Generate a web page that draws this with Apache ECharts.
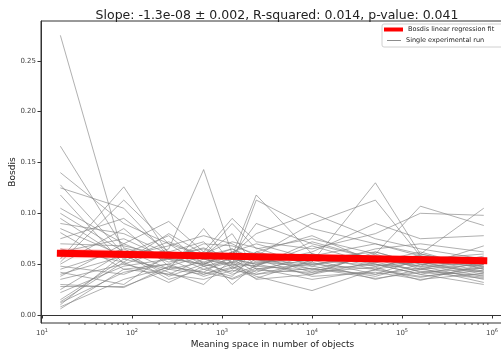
<!DOCTYPE html>
<html>
<head>
<meta charset="utf-8">
<script src="https://cdn.jsdelivr.net/npm/echarts@6/dist/echarts.min.js"></script>
<style>
  html, body { margin: 0; padding: 0; background: #fff; }
  #chart { width: 501px; height: 353px; }
</style>
</head>
<body>
<div id="chart"></div>
<script>
// meaning space sizes (x) shared by every run
const meaningSpace = [16, 81, 256, 625, 1296, 2401, 10000, 50625, 160000, 810000];

// one row per experimental run, values at each meaningSpace entry
const runs = [
  [0.275, 0.057, 0.062, 0.048, 0.055, 0.050, 0.058, 0.045, 0.052, 0.048],
  [0.166, 0.066, 0.055, 0.060, 0.048, 0.062, 0.050, 0.055, 0.047, 0.052],
  [0.140, 0.090, 0.070, 0.058, 0.065, 0.055, 0.060, 0.052, 0.058, 0.045],
  [0.128, 0.060, 0.078, 0.050, 0.062, 0.070, 0.055, 0.062, 0.050, 0.056],
  [0.125, 0.105, 0.058, 0.065, 0.052, 0.048, 0.068, 0.050, 0.045, 0.050],
  [0.118, 0.050, 0.065, 0.143, 0.060, 0.055, 0.045, 0.058, 0.052, 0.042],
  [0.105, 0.070, 0.092, 0.062, 0.058, 0.118, 0.060, 0.048, 0.055, 0.060],
  [0.100, 0.062, 0.055, 0.070, 0.068, 0.060, 0.052, 0.130, 0.060, 0.047],
  [0.095, 0.055, 0.072, 0.058, 0.090, 0.065, 0.075, 0.060, 0.107, 0.088],
  [0.090, 0.080, 0.060, 0.055, 0.050, 0.113, 0.085, 0.070, 0.060, 0.105],
  [0.085, 0.058, 0.068, 0.078, 0.070, 0.058, 0.090, 0.113, 0.058, 0.050],
  [0.081, 0.045, 0.050, 0.062, 0.095, 0.072, 0.065, 0.080, 0.100, 0.098],
  [0.075, 0.095, 0.062, 0.052, 0.060, 0.080, 0.100, 0.075, 0.065, 0.055],
  [0.070, 0.068, 0.058, 0.066, 0.055, 0.050, 0.062, 0.090, 0.075, 0.078],
  [0.065, 0.052, 0.080, 0.060, 0.072, 0.066, 0.048, 0.065, 0.070, 0.062],
  [0.062, 0.075, 0.055, 0.050, 0.058, 0.090, 0.070, 0.055, 0.048, 0.068],
  [0.058, 0.060, 0.062, 0.072, 0.045, 0.062, 0.078, 0.052, 0.062, 0.045],
  [0.055, 0.126, 0.060, 0.055, 0.065, 0.052, 0.058, 0.070, 0.058, 0.052],
  [0.052, 0.113, 0.070, 0.048, 0.052, 0.058, 0.042, 0.060, 0.045, 0.058],
  [0.050, 0.085, 0.048, 0.058, 0.080, 0.045, 0.055, 0.048, 0.052, 0.040],
  [0.048, 0.040, 0.056, 0.050, 0.062, 0.054, 0.050, 0.045, 0.060, 0.048],
  [0.045, 0.065, 0.045, 0.085, 0.050, 0.048, 0.072, 0.055, 0.042, 0.046],
  [0.042, 0.030, 0.060, 0.045, 0.038, 0.060, 0.045, 0.040, 0.055, 0.043],
  [0.040, 0.058, 0.042, 0.030, 0.055, 0.042, 0.060, 0.050, 0.040, 0.052],
  [0.038, 0.070, 0.052, 0.060, 0.030, 0.050, 0.040, 0.062, 0.050, 0.038],
  [0.035, 0.050, 0.040, 0.055, 0.048, 0.038, 0.024, 0.045, 0.038, 0.044],
  [0.030, 0.027, 0.048, 0.042, 0.058, 0.045, 0.050, 0.058, 0.048, 0.035],
  [0.025, 0.062, 0.038, 0.050, 0.042, 0.055, 0.038, 0.042, 0.035, 0.041],
  [0.022, 0.048, 0.055, 0.040, 0.050, 0.040, 0.052, 0.035, 0.045, 0.037],
  [0.015, 0.055, 0.045, 0.052, 0.040, 0.048, 0.044, 0.050, 0.040, 0.030],
  [0.012, 0.042, 0.050, 0.038, 0.046, 0.052, 0.048, 0.038, 0.050, 0.042],
  [0.010, 0.060, 0.035, 0.045, 0.052, 0.035, 0.040, 0.052, 0.043, 0.039],
  [0.008, 0.035, 0.047, 0.042, 0.036, 0.046, 0.035, 0.044, 0.037, 0.047],
  [0.006, 0.045, 0.040, 0.035, 0.044, 0.040, 0.046, 0.036, 0.042, 0.036],
  [0.013, 0.052, 0.032, 0.048, 0.035, 0.044, 0.042, 0.047, 0.034, 0.050],
  [0.028, 0.028, 0.045, 0.040, 0.047, 0.036, 0.054, 0.040, 0.046, 0.032]
];

// regression line and its confidence band
const fitX = [16, 810000];
const fitY = [0.0607, 0.0534];
const bandX = [16, 256, 2401, 50625, 810000];
const bandLow = [0.0555, 0.0570, 0.0552, 0.0525, 0.0495];
const bandHigh = [0.0660, 0.0625, 0.0598, 0.0580, 0.0572];

const xTicks = [10, 100, 1000, 10000, 100000, 1000000];
const yTicks = [0, 0.05, 0.1, 0.15, 0.2, 0.25];

const xMinorTicks = [];
for (let d = 10; d <= 100000; d *= 10) {
  for (let k = 2; k <= 9; k++) xMinorTicks.push(k * d);
}

const FONT = "DejaVu Sans";
const RUN_NAME = "Single experimental run";
const FIT_NAME = "Bosdis linear regression fit";
const Y_MIN = -0.00787;

const chart = echarts.init(document.getElementById("chart"), null, { renderer: "canvas" });

const series = runs.map((run) => ({
  name: RUN_NAME,
  type: "line",
  data: run.map((v, i) => [meaningSpace[i], v]),
  showSymbol: false,
  silent: true,
  itemStyle: { color: "#8c8c8c" },
  lineStyle: { color: "rgba(128,128,128,0.62)", width: 1 },
  z: 2
}));

series.push({
  type: "custom",
  silent: true,
  data: [0],
  z: 3,
  renderItem: (params, api) => {
    const pts = [];
    bandX.forEach((x, i) => pts.push(api.coord([x, bandHigh[i]])));
    for (let i = bandX.length - 1; i >= 0; i--) pts.push(api.coord([bandX[i], bandLow[i]]));
    return { type: "polygon", shape: { points: pts }, style: { fill: "rgba(255,0,0,0.16)" } };
  }
});

series.push({
  name: FIT_NAME,
  type: "line",
  data: fitX.map((x, i) => [x, fitY[i]]),
  showSymbol: false,
  silent: true,
  itemStyle: { color: "#ff0000" },
  lineStyle: { color: "#ff0000", width: 7, cap: "square" },
  z: 4
});

// matplotlib-style minor ticks on the log axis
series.push({
  type: "custom",
  silent: true,
  clip: false,
  data: xMinorTicks,
  z: 5,
  renderItem: (params, api) => {
    const p = api.coord([api.value(0), Y_MIN]);
    return {
      type: "line",
      shape: { x1: p[0], y1: p[1], x2: p[0], y2: p[1] + 2 },
      style: { stroke: "#333", lineWidth: 0.8 }
    };
  },
  encode: { x: 0 }
});

chart.setOption({
  animation: false,
  backgroundColor: "#fff",
  textStyle: { fontFamily: FONT },
  title: {
    text: "Slope: -1.3e-08 ± 0.002, R-squared: 0.014, p-value: 0.041",
    left: 272,
    textAlign: "center",
    top: 4,
    textStyle: { fontFamily: FONT, fontSize: 12.5, fontWeight: "normal", color: "#222" }
  },
  graphic: [{
    type: "rect",
    shape: { x: 382, y: 24, width: 125, height: 23, r: 2 },
    style: { fill: "rgba(255,255,255,0.85)", stroke: "#d0d0d0", lineWidth: 1 },
    z: 10
  }],
  legend: [
    {
      data: [{ name: FIT_NAME, icon: "rect" }],
      left: 384, top: 26, padding: 0,
      itemWidth: 19, itemHeight: 4,
      selectedMode: false,
      textStyle: { fontFamily: FONT, fontSize: 6.5, color: "#222" },
      z: 11
    },
    {
      data: [{ name: RUN_NAME, icon: "rect" }],
      left: 387, top: 37, padding: 0,
      itemWidth: 14, itemHeight: 1,
      selectedMode: false,
      textStyle: { fontFamily: FONT, fontSize: 6.5, color: "#222" },
      z: 11
    }
  ],
  grid: {
    left: 41, right: -3, top: 21, bottom: 30,
    containLabel: false,
    outerBoundsMode: "none",
    show: true, borderColor: "#333", borderWidth: 1, backgroundColor: "transparent"
  },
  xAxis: {
    type: "log",
    logBase: 10,
    min: 9.747,
    max: 1359000,
    name: "Meaning space in number of objects",
    nameLocation: "middle",
    nameGap: 17,
    nameMoveOverlap: false,
    nameTextStyle: { fontFamily: FONT, fontSize: 9, color: "#222" },
    axisLine: { show: true, lineStyle: { color: "#333", width: 1 } },
    axisTick: { show: true, customValues: xTicks, length: 3.5, lineStyle: { color: "#333" } },
    axisLabel: {
      customValues: xTicks,
      margin: 5,
      color: "#444",
      fontFamily: FONT,
      formatter: (v) => "{b|10}{s|" + Math.round(Math.log10(v)) + "}",
      rich: {
        b: { fontSize: 7, color: "#444", fontFamily: FONT },
        s: { fontSize: 5, color: "#444", fontFamily: FONT, verticalAlign: "top", padding: [0, 0, 5, 0] }
      }
    },
    splitLine: { show: false },
    minorTick: { show: false }
  },
  yAxis: {
    type: "value",
    min: Y_MIN,
    max: 0.2891,
    name: "Bosdis",
    nameLocation: "middle",
    nameGap: 24,
    nameMoveOverlap: false,
    nameTextStyle: { fontFamily: FONT, fontSize: 9, color: "#222" },
    axisLine: { show: true, lineStyle: { color: "#333", width: 1 } },
    axisTick: { show: true, customValues: yTicks, length: 3.5, lineStyle: { color: "#333" } },
    axisLabel: {
      customValues: yTicks,
      margin: 5,
      color: "#444",
      fontFamily: FONT,
      fontSize: 7,
      formatter: (v) => v.toFixed(2)
    },
    splitLine: { show: false }
  },
  series: series
});
</script>
</body>
</html>
